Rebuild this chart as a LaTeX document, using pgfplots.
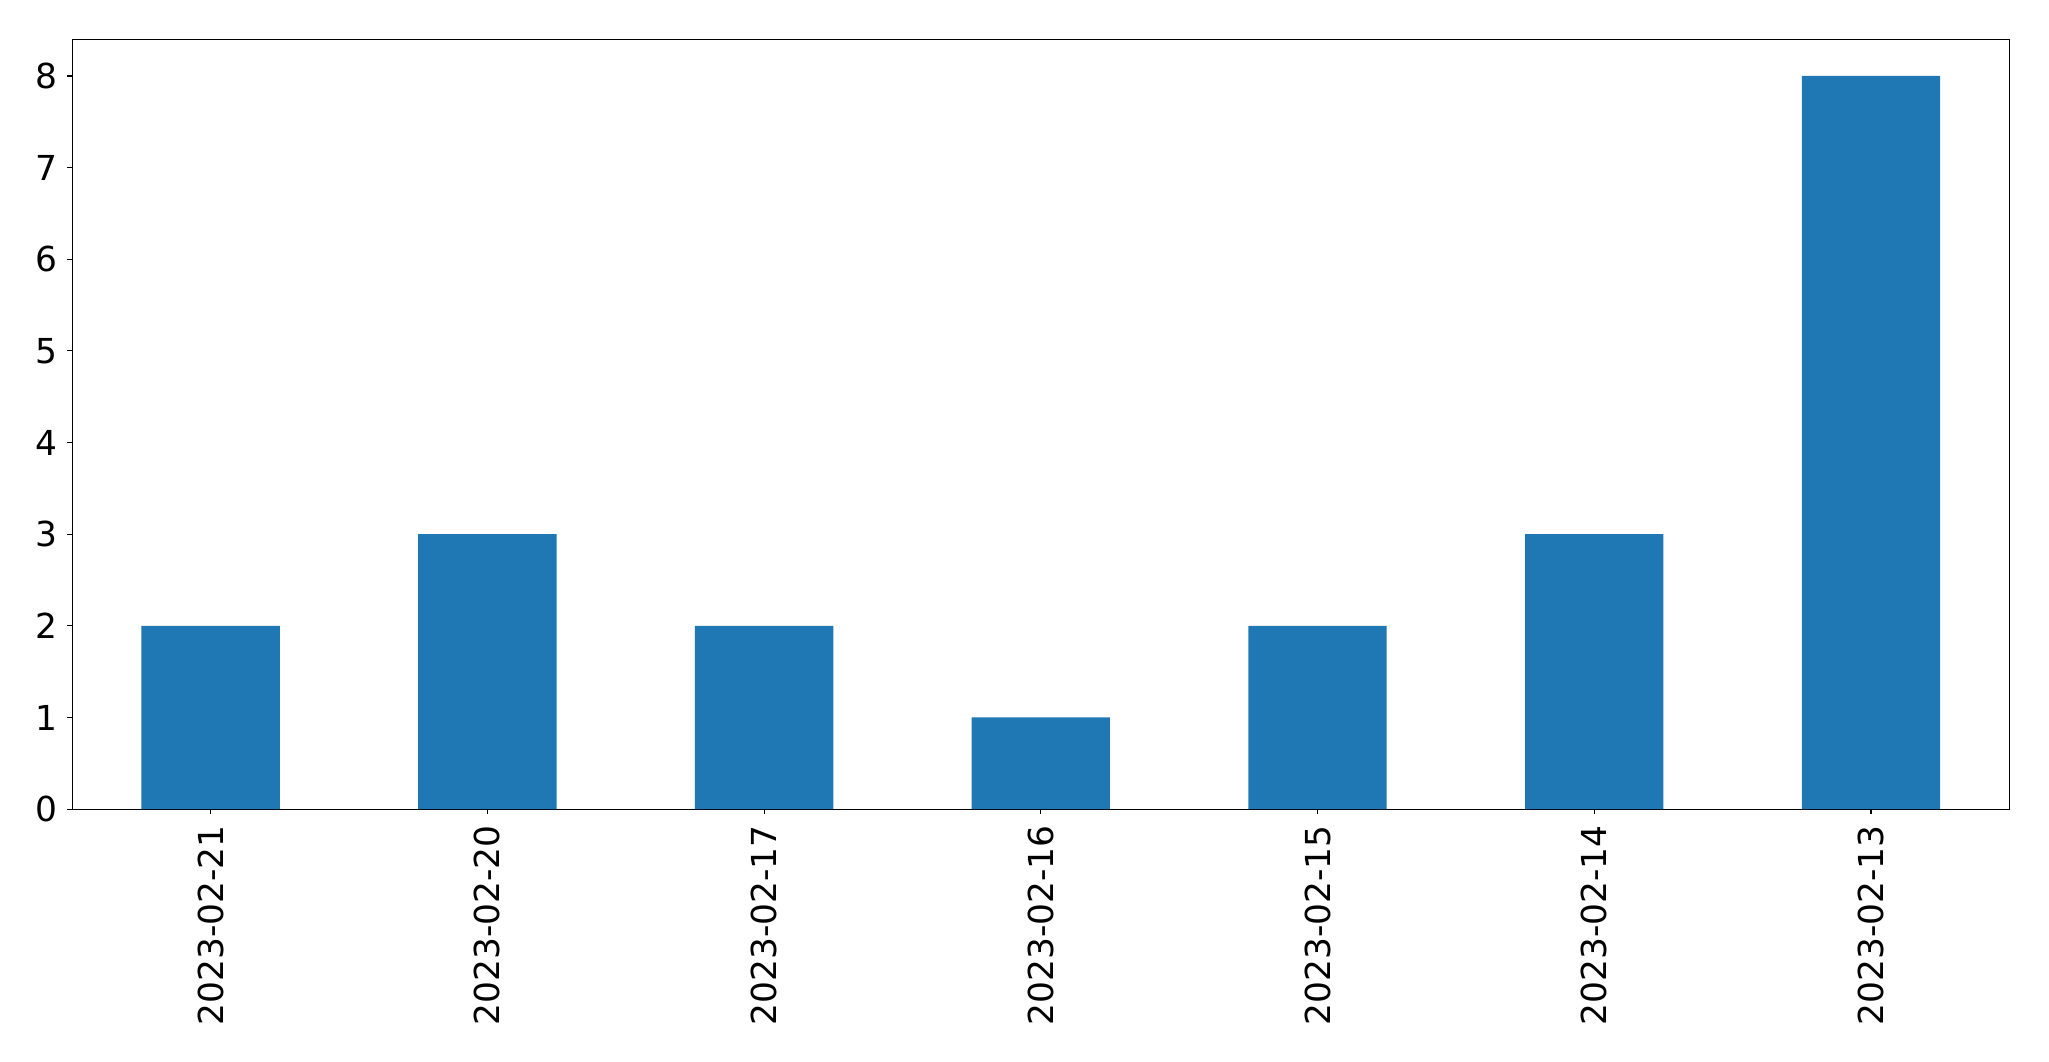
\documentclass[border=0pt]{standalone}
\usepackage{pgfplots}
\pgfplotsset{compat=1.18}
\usepackage{fontspec}
\setmainfont{DejaVu Sans}
\definecolor{tabblue}{HTML}{1F77B4}
\begin{document}
\begin{tikzpicture}
\begin{axis}[
  scale only axis,
  width=968.5bp, height=384.9bp,
  xmin=-0.5, xmax=6.5, ymin=0, ymax=8.4,
  xtick=data,
  xticklabels={2023-02-21,2023-02-20,2023-02-17,2023-02-16,2023-02-15,2023-02-14,2023-02-13},
  ytick={0,1,2,3,4,5,6,7,8},
  tick align=outside,
  major tick length=2.43bp,
  tick style={black, line width=0.56bp},
  axis line style={black, line width=0.56bp},
  xtick pos=bottom, ytick pos=left,
  /pgf/number format/assume math mode=true,
  ticklabel style={font=\fontsize{17.2bp}{21bp}\selectfont, inner sep=0pt},
  yticklabel style={anchor=east, xshift=-4.86bp},
  xticklabel style={rotate=90, anchor=east, xshift=-5.5bp},
  clip=false,
]
\addplot[ybar, bar width=0.5, fill=tabblue, draw=none, bar shift=0pt] coordinates {
  (0,2) (1,3) (2,2) (3,1) (4,2) (5,3) (6,8)
};
\end{axis}
\path (current axis.south west) ++(-36.15bp,-126bp) coordinate (bbsw);
\path (current axis.north east) ++(19.85bp,19.65bp) coordinate (bbne);
\useasboundingbox (bbsw) rectangle (bbne);
\end{tikzpicture}
\end{document}
